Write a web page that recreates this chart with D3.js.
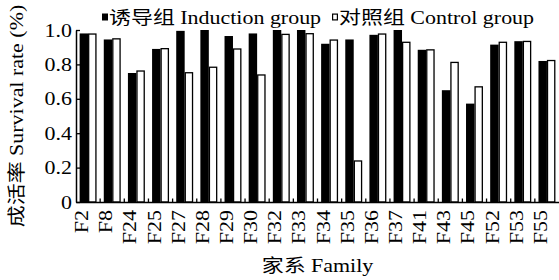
<!DOCTYPE html>
<html>
<head>
<meta charset="utf-8">
<script src="https://cdn.jsdelivr.net/npm/d3@7/dist/d3.min.js"></script>
<style>
  html, body { margin: 0; padding: 0; background: #fff; }
  svg { display: block; }
  text { font-family: "Liberation Serif", "Noto Sans CJK SC", serif; fill: #000; }
</style>
</head>
<body>
<svg id="chart" width="559" height="280"></svg>
<script>
// ---- data ----
const families = ["F2","F8","F24","F25","F27","F28","F29","F30","F32","F33","F34","F35","F36","F37","F41","F43","F45","F52","F53","F55"];
const induction = [0.98,0.945,0.75,0.89,0.995,1.0,0.965,0.98,1.0,1.0,0.92,0.945,0.972,1.0,0.885,0.65,0.572,0.915,0.935,0.82];
const control   = [0.98,0.952,0.765,0.895,0.755,0.787,0.893,0.742,0.978,0.982,0.945,0.242,0.98,0.932,0.888,0.815,0.673,0.932,0.937,0.826];
const yTicks = [0, 0.2, 0.4, 0.6, 0.8, 1.0];
const seriesNames = ["诱导组 Induction group", "对照组 Control group"];
const yTitle = "成活率 Survival rate (%)";
const xTitle = "家系 Family";

// ---- layout ----
const svg = d3.select("#chart");
const pL = 76, pR = 559, pT = 30, pB = 202;
const FS = 18, SX = 1.22;

const x = d3.scaleBand().domain(families).range([pL, pR]);
const y = d3.scaleLinear().domain([0, 1]).range([pB, pT]);
const step = x.step();
const barW = step * 0.35;

const rows = families.map((f, i) => ({ f, a: induction[i], b: control[i] }));

// bars
const g = svg.append("g");
g.selectAll("rect.ind").data(rows).join("rect")
  .attr("class", "ind")
  .attr("x", d => x(d.f) + step / 2 - barW)
  .attr("y", d => y(d.a))
  .attr("width", barW)
  .attr("height", d => pB - y(d.a))
  .attr("fill", "#000");
g.selectAll("rect.ctl").data(rows).join("rect")
  .attr("class", "ctl")
  .attr("x", d => x(d.f) + step / 2 + 0.6)
  .attr("y", d => y(d.b) + 0.6)
  .attr("width", barW - 1.2)
  .attr("height", d => pB - y(d.b) - 0.6)
  .attr("fill", "#fff")
  .attr("stroke", "#000")
  .attr("stroke-width", 1.3);

// y axis
const yAxis = svg.append("g").attr("transform", `translate(${pL},0)`)
  .call(d3.axisLeft(y).tickValues(yTicks).tickSizeInner(-4).tickSizeOuter(0).tickPadding(4)
    .tickFormat(d => d === 0 ? "0" : d3.format(".1f")(d)));
yAxis.attr("font-family", null).attr("font-size", null);
yAxis.select(".domain").attr("stroke", "#000").attr("stroke-width", 1.5);
yAxis.selectAll(".tick line").attr("stroke", "#000").attr("stroke-width", 1.3);
yAxis.selectAll(".tick text")
  .style("font-size", FS + "px")
  .attr("x", 0).attr("dy", null)
  .attr("transform", `translate(-4,6) scale(${SX},1)`);

// x axis
const xAxis = svg.append("g").attr("transform", `translate(0,${pB})`)
  .call(d3.axisBottom(x).tickSize(0).tickPadding(0));
xAxis.attr("font-family", null).attr("font-size", null);
xAxis.select(".domain").attr("stroke", "#000").attr("stroke-width", 1.5);
xAxis.selectAll(".tick text")
  .style("font-size", FS + "px")
  .attr("x", 0).attr("y", 0).attr("dy", null)
  .attr("text-anchor", "end")
  .attr("transform", `translate(0,8) rotate(-90) scale(${SX},1)`);

// boundary ticks on x axis (pointing up)
svg.append("g").selectAll("line").data(families.slice(1)).join("line")
  .attr("x1", d => x(d)).attr("x2", d => x(d))
  .attr("y1", pB).attr("y2", pB - 3.5)
  .attr("stroke", "#000").attr("stroke-width", 1.3);

// axis titles
svg.append("text")
  .attr("transform", `translate(23,${(pT + pB) / 2}) rotate(-90) scale(${SX},1)`)
  .attr("text-anchor", "middle")
  .style("font-size", FS + "px")
  .text(yTitle);
svg.append("text")
  .attr("transform", `translate(${(pL + pR) / 2},272) scale(${SX},1)`)
  .attr("text-anchor", "middle")
  .style("font-size", FS + "px")
  .text(xTitle);

// legend
const legX = [102, 332];
const leg = svg.append("g");
seriesNames.forEach((name, i) => {
  leg.append("rect")
    .attr("x", legX[i] + (i ? 0.6 : 0)).attr("y", 13.5 + (i ? 0.6 : 0))
    .attr("width", i ? 4.8 : 6).attr("height", i ? 5.8 : 7)
    .attr("fill", i ? "#fff" : "#000")
    .attr("stroke", i ? "#000" : "none").attr("stroke-width", 1.2);
  leg.append("text")
    .attr("transform", `translate(${legX[i] + 7},24) scale(${SX},1)`)
    .style("font-size", FS + "px")
    .text(name);
});
</script>
</body>
</html>
